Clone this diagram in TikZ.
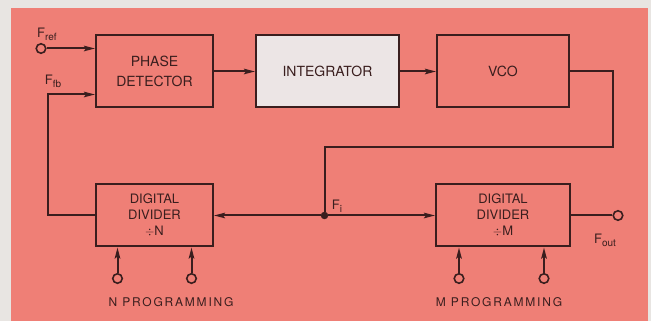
\documentclass[tikz,border=0pt]{standalone}
\usepackage{fontspec}
\setmainfont{TeX Gyre Heros}
\usepackage{tikz}
\usetikzlibrary{shapes,arrows.meta,positioning,calc}

\definecolor{pagegrey}{RGB}{232,229,226}
\definecolor{salmon}{RGB}{239,127,118}
\definecolor{intfill}{RGB}{236,229,229}
\definecolor{ink}{RGB}{58,30,30}

\newcommand{\sigsub}[1]{\raisebox{-3pt}{\fontsize{10}{10}\selectfont #1}}

\begin{document}
\begin{tikzpicture}[
    x=1pt, y=1pt,
    >={Stealth[length=11pt,width=5.5pt,inset=2pt]},
    wire/.style={draw=ink, line width=2pt},
    block/.style={rectangle, draw=ink, line width=2pt, minimum height=72pt,
        font=\fontsize{14}{20}\selectfont, align=center, text=ink},
    divblock/.style={block, minimum height=62pt, font=\fontsize{13}{16}\selectfont},
    term/.style={circle, draw=ink, line width=1.6pt, fill=salmon, minimum size=9.5pt, inner sep=0pt},
    dot/.style={circle, fill=ink, minimum size=7.5pt, inner sep=0pt},
    sig/.style={text=ink, font=\fontsize{13}{13}\selectfont, inner sep=0pt},
    prog/.style={text=ink, font=\fontsize{12}{12}\selectfont\addfontfeature{LetterSpace=15}, inner sep=0pt}
]
% background
\fill[pagegrey] (0,0) rectangle (651,321);
\fill[salmon] (11,0) rectangle (648,313);

% top row
\node[block, minimum width=117pt] (PD) at (154.5,249.5) {PHASE\\DETECTOR};
\node[block, minimum width=143pt, fill=intfill] (INT) [right=41pt of PD] {INTEGRATOR};
\node[block, minimum width=132pt] (VCO) [right=36pt of INT] {VCO};

% dividers
\node[divblock, minimum width=117pt] (DN) [below=75pt of PD] {DIGITAL\\DIVIDER\\$\div$N};
\node[divblock, minimum width=134pt] (DM) [below=75pt of VCO] {DIGITAL\\DIVIDER\\$\div$M};
\node[dot] (Fi) at ($(DN.east)!.5!(DM.west)$) {};

% terminals
\node[term] (ref) at ([xshift=-54pt,yshift=23pt]PD.west) {};
\node[term] (out) at ([xshift=47pt]DM.east) {};
\node[term] (n1) at ([xshift=-37pt,yshift=-31pt]DN.south) {};
\node[term] (n2) at ([xshift=37pt,yshift=-31pt]DN.south) {};
\node[term] (m1) at ([xshift=-44pt,yshift=-31pt]DM.south) {};
\node[term] (m2) at ([xshift=41pt,yshift=-31pt]DM.south) {};

% labels
\node[sig] (lref) at (47,287) {F\sigsub{ref}};
\node[sig] (lfb) at (53,240) {F\sigsub{fb}};
\node[sig] (lfi) at (337,115) {F\sigsub{i}};
\node[sig] (lout) at (605,81) {F\sigsub{out}};
\node[prog] (nprog) at (171,19) {N\ PROGRAMMING};
\node[prog] (mprog) at (499,19) {M\ PROGRAMMING};

% connections
\draw[wire, ->] (ref) -- ([yshift=23pt]PD.west);
\draw[wire, ->] (PD) -- (INT);
\draw[wire, ->] (INT) -- (VCO);
\draw[wire] (VCO.east) -| ++(43,-75.5) -| (Fi);
\draw[wire, ->] (Fi) -- (DN);
\draw[wire, ->] (Fi) -- (DM);
\draw[wire, ->] (DN.west) -- ++(-47,0) |- ([yshift=-23pt]PD.west);
\draw[wire] (DM) -- (out);
\draw[wire, ->] (n1) -- (n1 |- DN.south);
\draw[wire, ->] (n2) -- (n2 |- DN.south);
\draw[wire, ->] (m1) -- (m1 |- DM.south);
\draw[wire, ->] (m2) -- (m2 |- DM.south);
\end{tikzpicture}
\end{document}
